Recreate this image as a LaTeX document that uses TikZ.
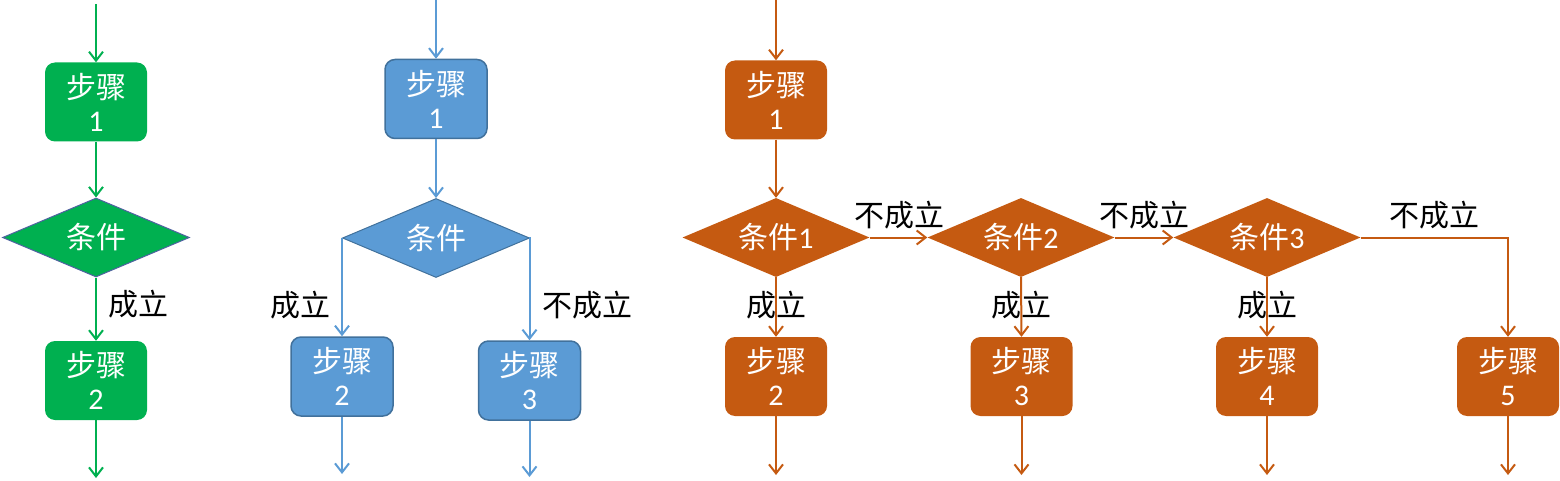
\documentclass[tikz,border=0pt]{standalone}
\usepackage{fontspec}
\setmainfont{Carlito}
\newfontfamily\cjk{Noto Sans CJK SC}
\usetikzlibrary{shapes.geometric,arrows.meta}
\definecolor{grn}{HTML}{00B050}
\definecolor{blu}{HTML}{5B9BD5}
\definecolor{bluedge}{HTML}{41719C}
\definecolor{org}{HTML}{C55A11}
\definecolor{dedge}{HTML}{4F62A0}
\tikzset{
  stepbox/.style={rectangle, rounded corners=10pt, minimum width=102pt, minimum height=79pt,
    inner sep=0pt, align=center, text=white, font=\fontsize{30}{33}\selectfont},
  cond/.style={diamond, inner sep=0pt, aspect=2.4, minimum width=187pt, minimum height=79pt,
    text=white, font=\fontsize{30}{33}\selectfont},
  lbl/.style={font=\fontsize{30}{33}\selectfont\cjk, text=black, inner sep=0pt},
  conn/.style={line width=2pt, -{Straight Barb[length=9pt,width=14pt]}},
}
\begin{document}
\begin{tikzpicture}[x=1pt,y=-1pt]
\useasboundingbox (0,0) rectangle (1560,481);
% ---------- green ----------
\coordinate (gin) at (96,4);
\node[stepbox, fill=grn] (g1) at (96,102) {{\cjk 步骤}\\1};
\node[cond, fill=grn, draw=dedge, line width=1pt] (gc) at (96,237.5) {\cjk 条件};
\node[stepbox, fill=grn] (g2) at (96,380.5) {{\cjk 步骤}\\2};
\coordinate (gout) at (96,478);
\draw[conn, grn] (gin) -- (g1.north);
\draw[conn, grn] (g1.south) -- (gc.north);
\draw[conn, grn] (gc.south) -- (g2.north);
\draw[conn, grn] (g2.south) -- (gout);
\node[lbl] (gl) at (138,304) {成立};
% ---------- blue ----------
\coordinate (bin) at (436,0);
\node[stepbox, fill=blu, draw=bluedge, line width=1.5pt] (b1) at (436,99) {{\cjk 步骤}\\1};
\node[cond, fill=blu, draw=bluedge, line width=1pt] (bc) at (436,238) {\cjk 条件};
\node[stepbox, fill=blu, draw=bluedge, line width=1.5pt] (b2) at (342,376.5) {{\cjk 步骤}\\2};
\node[stepbox, fill=blu, draw=bluedge, line width=1.5pt] (b3) at (529.5,380.5) {{\cjk 步骤}\\3};
\coordinate (b2out) at (342,474);
\coordinate (b3out) at (529.5,477);
\draw[conn, blu] (bin) -- (b1.north);
\draw[conn, blu] (b1.south) -- (bc.north);
\draw[conn, blu] (bc.west) -| (b2.north);
\draw[conn, blu] (bc.east) -| (b3.north);
\draw[conn, blu] (b2.south) -- (b2out);
\draw[conn, blu] (b3.south) -- (b3out);
\node[lbl] (bl1) at (300,305) {成立};
\node[lbl] (bl2) at (587,305) {不成立};
% ---------- orange ----------
\coordinate (oin) at (776,0);
\node[stepbox, fill=org] (o1) at (776,100) {{\cjk 步骤}\\1};
\node[cond, fill=org] (oc1) at (776,237.5) {{\cjk 条件}1};
\node[cond, fill=org] (oc2) at (1021,237.5) {{\cjk 条件}2};
\node[cond, fill=org] (oc3) at (1267,237.5) {{\cjk 条件}3};
\node[stepbox, fill=org] (o2) at (776,376.5) {{\cjk 步骤}\\2};
\node[stepbox, fill=org] (o3) at (1021.5,376.5) {{\cjk 步骤}\\3};
\node[stepbox, fill=org] (o4) at (1267,376.5) {{\cjk 步骤}\\4};
\node[stepbox, fill=org] (o5) at (1508,376.5) {{\cjk 步骤}\\5};
\coordinate (o2out) at (776,475);
\coordinate (o3out) at (1021.5,475);
\coordinate (o4out) at (1267,475);
\coordinate (o5out) at (1508,475);
\draw[conn, org] (oin) -- (o1.north);
\draw[conn, org] (o1.south) -- (oc1.north);
\draw[conn, org] (oc1.east) -- (oc2.west);
\draw[conn, org] (oc2.east) -- (oc3.west);
\draw[conn, org] (oc3.east) -| (o5.north);
\draw[conn, org] (oc1.south) -- (o2.north);
\draw[conn, org] (oc2.south) -- (o3.north);
\draw[conn, org] (oc3.south) -- (o4.north);
\draw[conn, org] (o2.south) -- (o2out);
\draw[conn, org] (o3.south) -- (o3out);
\draw[conn, org] (o4.south) -- (o4out);
\draw[conn, org] (o5.south) -- (o5out);
\node[lbl] (ol1) at (899,215) {不成立};
\node[lbl] (ol2) at (1144,215) {不成立};
\node[lbl] (ol3) at (1434,215) {不成立};
\node[lbl] (oy1) at (776,305) {成立};
\node[lbl] (oy2) at (1021,305) {成立};
\node[lbl] (oy3) at (1267,305) {成立};
\end{tikzpicture}
\end{document}
